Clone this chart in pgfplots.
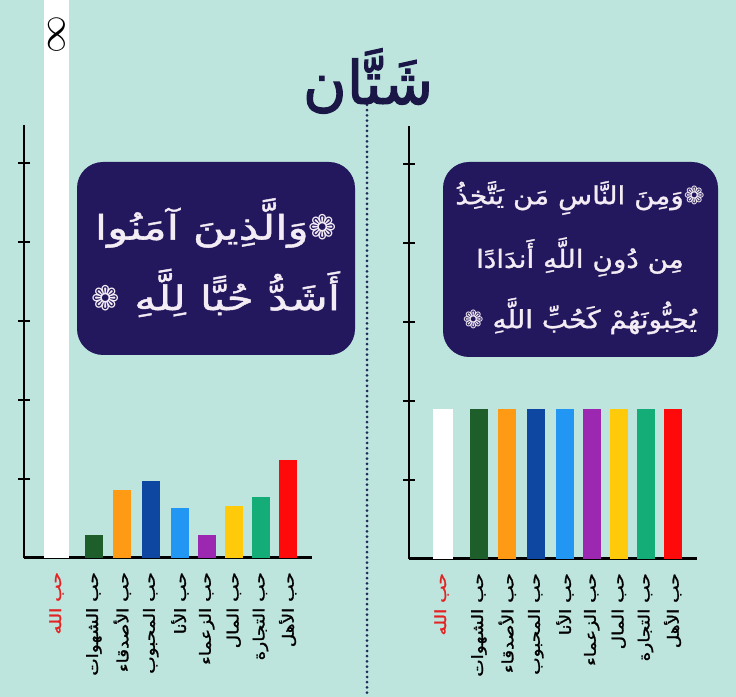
\documentclass[border=0pt]{standalone}
\usepackage{pgfplots}
\pgfplotsset{compat=1.18}
\usepackage{fontspec}
\TeXXeTstate=1
\newfontfamily\arabicfont[Script=Arabic]{DejaVu Sans}
\newfontfamily\arabicbold[Script=Arabic,FakeBold=1.5,FakeStretch=1.2]{DejaVu Sans}
\newfontfamily\arabicverse[Script=Arabic,FakeBold=1.3,FakeStretch=1.3]{DejaVu Sans}
\newfontfamily\arabicversetwo[Script=Arabic,FakeBold=1.3,FakeStretch=1.12]{DejaVu Sans}
\newfontfamily\arabicheavy[Script=Arabic,FakeBold=2]{DejaVu Sans}
\newfontfamily\symfont{DejaVu Sans}
\newcommand{\orn}{{\symfont ❁}}
\definecolor{bg}{HTML}{BDE4DD}
\definecolor{boxc}{HTML}{23175E}
\definecolor{titlec}{HTML}{1A1646}
\definecolor{dotc}{HTML}{1E2A5A}
\definecolor{versec}{HTML}{F4ECF4}
\definecolor{cgreen}{HTML}{1E5E2A}
\definecolor{corange}{HTML}{FF9A15}
\definecolor{cdblue}{HTML}{0E47A1}
\definecolor{clblue}{HTML}{2196F3}
\definecolor{cpurple}{HTML}{9C27B0}
\definecolor{cyellow}{HTML}{FFCA0A}
\definecolor{cteal}{HTML}{14AD78}
\definecolor{cred}{HTML}{FF0A0A}
\definecolor{labred}{HTML}{E52222}

\pgfplotsset{
  lovechart/.style={
    scale only axis, width=288bp, height=433bp,
    anchor=south west,
    xmin=0, xmax=10.29, ymin=0, ymax=5.48,
    axis x line=bottom, axis y line=left,
    x axis line style={-, line width=3bp, black},
    y axis line style={-, line width=2bp, black},
    ybar, bar shift=0pt,
    ytick={1,2,3,4,5}, yticklabels={},
    tick align=center, major tick length=12bp,
    ytick style={line width=1.8bp, black},
    xtick={1.16,2.5,3.51,4.53,5.57,6.53,7.5,8.45,9.42},
    xtick style={draw=none},
    xticklabels={{\color{labred}\beginR حب الله\endR},{\beginR حب الشهوات\endR},{\beginR حب الأصدقاء\endR},{\beginR حب المحبوب\endR},{\beginR حب الأنا\endR},{\beginR حب الزعماء\endR},{\beginR حب المال\endR},{\beginR حب التجارة\endR},{\beginR حب الأهل\endR}},
    xticklabel style={rotate=90, anchor=east, inner sep=0pt, font=\arabicbold\fontsize{15.5}{17}\selectfont, text=black},
    xticklabel shift=8bp,
    clip=false,
  }
}

\begin{document}
\begin{tikzpicture}[x=1bp,y=1bp]
\useasboundingbox (0,0) rectangle (736,697);
\fill[bg] (0,0) rectangle (736,697);
\fill[boxc, rounded corners=26bp] (77,342) rectangle (355,535);
\fill[boxc, rounded corners=26bp] (443,340) rectangle (718,535);
\draw[dotc, line width=3bp, line cap=round, dash pattern=on 0bp off 5.2bp] (367,592) -- (367,0);
\node[inner sep=0pt, text=titlec, font=\arabicheavy\fontsize{60}{64}\selectfont] at (368,616) {\beginR شَتَّان\endR};

% verse boxes
\node[inner sep=0pt, text=versec, font=\arabicverse\fontsize{34}{38}\selectfont] at (216,474) {\beginR \orn وَالَّذِينَ آمَنُوا\endR};
\node[inner sep=0pt, text=versec, font=\arabicverse\fontsize{34}{38}\selectfont] at (216,404) {\beginR أَشَدُّ حُبًّا لِلَّهِ \orn\endR};
\node[inner sep=0pt, text=versec, font=\arabicversetwo\fontsize{25}{29}\selectfont] at (580,499) {\beginR \orn وَمِنَ النَّاسِ مَن يَتَّخِذُ\endR};
\node[inner sep=0pt, text=versec, font=\arabicversetwo\fontsize{25}{29}\selectfont] at (580,440) {\beginR مِن دُونِ اللَّهِ أَندَادًا\endR};
\node[inner sep=0pt, text=versec, font=\arabicversetwo\fontsize{25}{29}\selectfont] at (580,381) {\beginR يُحِبُّونَهُمْ كَحُبِّ اللَّهِ \orn\endR};

% left chart: believers
\begin{axis}[lovechart, at={(24bp,139bp)}]
\addplot[fill=white, draw=none, bar width=25bp] coordinates {(1.16,7.06)};
\addplot[fill=cgreen, draw=none, bar width=18bp] coordinates {(2.5,0.29)};
\addplot[fill=corange, draw=none, bar width=18bp] coordinates {(3.51,0.86)};
\addplot[fill=cdblue, draw=none, bar width=18bp] coordinates {(4.53,0.97)};
\addplot[fill=clblue, draw=none, bar width=18bp] coordinates {(5.57,0.63)};
\addplot[fill=cpurple, draw=none, bar width=18bp] coordinates {(6.53,0.29)};
\addplot[fill=cyellow, draw=none, bar width=18bp] coordinates {(7.5,0.66)};
\addplot[fill=cteal, draw=none, bar width=18bp] coordinates {(8.45,0.77)};
\addplot[fill=cred, draw=none, bar width=18bp] coordinates {(9.42,1.24)};
\node[rotate=90, scale=3.8, inner sep=0pt] at (axis cs:1.16,6.63) {$\infty$};
\end{axis}

% right chart: others
\begin{axis}[lovechart, at={(409bp,138bp)}]
\addplot[fill=white, draw=none, bar width=20bp] coordinates {(1.2,1.9)};
\addplot[fill=cgreen, draw=none, bar width=18bp] coordinates {(2.5,1.9)};
\addplot[fill=corange, draw=none, bar width=18bp] coordinates {(3.51,1.9)};
\addplot[fill=cdblue, draw=none, bar width=18bp] coordinates {(4.53,1.9)};
\addplot[fill=clblue, draw=none, bar width=18bp] coordinates {(5.57,1.9)};
\addplot[fill=cpurple, draw=none, bar width=18bp] coordinates {(6.53,1.9)};
\addplot[fill=cyellow, draw=none, bar width=18bp] coordinates {(7.5,1.9)};
\addplot[fill=cteal, draw=none, bar width=18bp] coordinates {(8.45,1.9)};
\addplot[fill=cred, draw=none, bar width=18bp] coordinates {(9.42,1.9)};
\end{axis}
\end{tikzpicture}
\end{document}
